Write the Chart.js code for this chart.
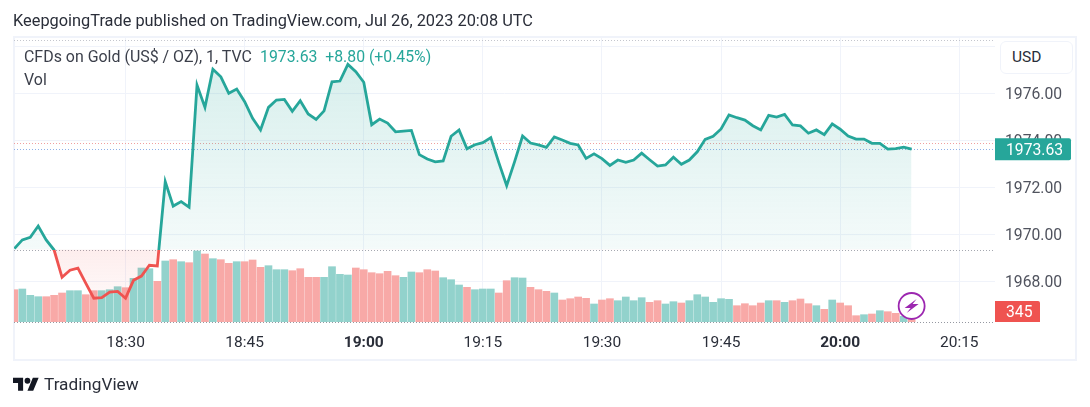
<!DOCTYPE html>
<html>
<head>
<meta charset="utf-8">
<title>CFDs on Gold</title>
<script src="https://cdn.jsdelivr.net/npm/chart.js@4/dist/chart.umd.min.js"></script>
<style>
  html, body { margin: 0; padding: 0; background: #fff; }
  body { width: 1090px; height: 407px; position: relative; overflow: hidden; font-family: Roboto, sans-serif; }
  canvas { position: absolute; left: 0; top: 0; }
  .txt { position: absolute; white-space: nowrap; }
  #published { left: 13px; top: 11px; font-size: 16.35px; color: #2a2e39; }
  #frame { position: absolute; left: 13px; top: 36px; width: 1060px; height: 321px; border: 2px solid #f0f3fa; }
  #symbol { left: 24px; top: 47px; font-size: 15.95px; color: #3b3f4a; }
  #quote { left: 260px; top: 47px; font-size: 15.8px; color: #26a69a; }
  #vol { left: 24px; top: 70px; font-size: 15.95px; color: #3b3f4a; }
  #usd { left: 1000px; top: 41px; width: 71px; height: 31px; line-height: 31px; border: 1px solid #f0f3fa; border-radius: 6px;
         background: #fff; font-size: 15.5px; color: #2a2e39; text-indent: 11px; }
  #logo { position: absolute; left: 13px; top: 377px; }
  #brand { left: 44px; top: 374px; font-size: 17.2px; color: #2a2e39; }
</style>
</head>
<body>
<div id="frame"></div>
<canvas id="goldChart" width="1090" height="407"></canvas>
<div class="txt" id="published">KeepgoingTrade published on TradingView.com, Jul 26, 2023 20:08 UTC</div>
<div class="txt" id="symbol">CFDs on Gold (US$ / OZ), 1, TVC</div>
<div class="txt" id="quote">1973.63&nbsp; +8.80 (+0.45%)</div>
<div class="txt" id="vol">Vol</div>
<div class="txt" id="usd">USD</div>
<svg id="logo" width="26" height="14" viewBox="0 0 36 19">
  <path fill="#131722" d="M14 19H7V8H0V1h14v18zM28 19h-8l7.5-18h8L28 19z"/><circle cx="20" cy="5" r="4" fill="#131722"/>
</svg>
<div class="txt" id="brand">TradingView</div>

<script>
// one bar per minute, first bar is 18:16
const firstMinute = 18 * 60 + 16;

const closes = [
  1969.40, 1969.77, 1969.88, 1970.36, 1969.77, 1969.34, 1968.18, 1968.48, 1968.57, 1967.92,
  1967.29, 1967.31, 1967.55, 1967.58, 1967.29, 1968.05, 1968.23, 1968.69, 1968.66, 1972.25,
  1971.21, 1971.40, 1971.16, 1976.36, 1975.41, 1977.03, 1976.71, 1976.01, 1976.19, 1975.65,
  1974.94, 1974.45, 1975.41, 1975.72, 1975.75, 1975.24, 1975.69, 1975.13, 1974.90, 1975.26,
  1976.50, 1976.53, 1977.24, 1976.93, 1976.48, 1974.67, 1974.91, 1974.74, 1974.37, 1974.40,
  1974.43, 1973.40, 1973.21, 1973.09, 1973.13, 1974.18, 1974.45, 1973.65, 1973.82, 1973.91,
  1974.12, 1973.07, 1972.08, 1973.10, 1974.19, 1973.89, 1973.81, 1973.71, 1974.15, 1974.02,
  1973.88, 1973.81, 1973.24, 1973.43, 1973.23, 1972.94, 1973.17, 1973.07, 1973.17, 1973.46,
  1973.18, 1972.91, 1972.96, 1973.29, 1972.99, 1973.17, 1973.52, 1974.05, 1974.18, 1974.49,
  1975.09, 1974.97, 1974.87, 1974.63, 1974.45, 1975.07, 1975.00, 1975.11, 1974.66, 1974.62,
  1974.31, 1974.45, 1974.25, 1974.71, 1974.48, 1974.19, 1974.06, 1974.06, 1973.88, 1973.88,
  1973.63, 1973.65, 1973.72, 1973.63
];

const volumes = [
  2100, 2145, 1735, 1645, 1645, 1735, 1885, 2035, 2035, 1775,
  2035, 2035, 2100, 2295, 2230, 2840, 3510, 3465, 2645, 3965,
  4050, 3920, 3855, 4615, 4420, 4115, 4050, 3815, 3920, 3920,
  4030, 3555, 3660, 3400, 3400, 3335, 3465, 2905, 2905, 2905,
  3595, 3100, 3055, 3510, 3400, 3205, 3140, 3295, 3010, 2905,
  3250, 3205, 3400, 3315, 2880, 2750, 2405, 2255, 2100, 2145,
  2145, 1885, 2685, 2880, 2860, 2255, 2100, 1995, 1885, 1430,
  1515, 1625, 1540, 1170, 1430, 1515, 1385, 1625, 1385, 1580,
  1280, 1385, 1170, 1320, 1235, 1385, 1775, 1625, 1280, 1515,
  1475, 1060, 1190, 1060, 1235, 1385, 1385, 1280, 1385, 1495,
  1190, 1060, 825, 1430, 1235, 1060, 410, 475, 520, 735,
  670, 565, 370, 345
];

// 1 = up bar, 0 = down bar
const volumeUp = [
  0, 1, 1, 1, 0, 0, 0, 1, 1, 0,
  0, 1, 1, 1, 0, 1, 1, 1, 0, 1,
  0, 1, 0, 1, 0, 1, 0, 0, 1, 0,
  0, 0, 1, 1, 1, 0, 0, 0, 0, 1,
  1, 1, 1, 0, 0, 0, 0, 0, 0, 1,
  1, 0, 0, 0, 1, 1, 1, 0, 1, 1,
  1, 0, 0, 1, 1, 0, 0, 0, 1, 0,
  0, 0, 0, 1, 0, 0, 1, 1, 1, 1,
  0, 0, 1, 1, 0, 1, 1, 1, 1, 1,
  1, 0, 0, 0, 0, 1, 0, 1, 0, 0,
  0, 1, 0, 1, 0, 0, 0, 1, 0, 1,
  0, 0, 1, 0
];

const timeTicks = ["18:30", "18:45", "19:00", "19:15", "19:30", "19:45", "20:00", "20:15"];
const boldTicks = ["19:00", "20:00"];
const priceTicks = [1968, 1970, 1972, 1974, 1976, 1978];

const baseValue = 1969.36;
const lastPrice = 1973.63;
const prevClose = 1973.88;
const highLine = 1978.28;

const GREEN = "#26a69a";
const RED = "#ef5350";

function toMinute(label) {
  const parts = label.split(":");
  return parseInt(parts[0]) * 60 + parseInt(parts[1]);
}

function toLabel(minute) {
  const m = String(minute % 60).padStart(2, "0");
  return Math.floor(minute / 60) + ":" + m;
}

const linePoints = closes.map((v, i) => ({ x: firstMinute + i, y: v }));
const barPoints = volumes.map((v, i) => ({ x: firstMinute + i, y: v }));

// line changes colour where it crosses the baseline
function lineColor(context) {
  const chart = context.chart;
  if (!chart.chartArea) return GREEN;
  const y = chart.scales.y;
  const stop = (y.getPixelForValue(baseValue) - y.top) / (y.bottom - y.top);
  const g = chart.ctx.createLinearGradient(0, y.top, 0, y.bottom);
  g.addColorStop(0, GREEN);
  g.addColorStop(stop, GREEN);
  g.addColorStop(stop, RED);
  g.addColorStop(1, RED);
  return g;
}

function fillAbove(context) {
  const chart = context.chart;
  if (!chart.chartArea) return "rgba(38,166,154,0.1)";
  const y = chart.scales.y;
  const g = chart.ctx.createLinearGradient(0, y.getPixelForValue(Math.max(...closes)), 0, y.getPixelForValue(baseValue));
  g.addColorStop(0, "rgba(38,166,154,0.18)");
  g.addColorStop(1, "rgba(38,166,154,0.05)");
  return g;
}

function fillBelow(context) {
  const chart = context.chart;
  if (!chart.chartArea) return "rgba(239,83,80,0.08)";
  const y = chart.scales.y;
  const g = chart.ctx.createLinearGradient(0, y.getPixelForValue(baseValue), 0, y.getPixelForValue(Math.min(...closes)));
  g.addColorStop(0, "rgba(239,83,80,0.1)");
  g.addColorStop(1, "rgba(239,83,80,0.04)");
  return g;
}

// dotted price lines, price tags and the live marker
const overlays = {
  id: "overlays",
  beforeDatasetsDraw(chart) {
    const { ctx, chartArea, scales } = chart;
    const dotted = [
      [highLine, "#c4c6cd"],
      [baseValue, "#a5a8b0"],
      [prevClose, "#f0a0a0"],
      [lastPrice, "#8fb0e8"]
    ];
    ctx.save();
    ctx.lineWidth = 1;
    ctx.setLineDash([1, 2]);
    dotted.forEach(d => {
      const py = Math.round(scales.y.getPixelForValue(d[0])) + 0.5;
      ctx.strokeStyle = d[1];
      ctx.beginPath();
      ctx.moveTo(chartArea.left, py);
      ctx.lineTo(chartArea.right, py);
      ctx.stroke();
    });
    ctx.restore();
  },
  afterDatasetsDraw(chart) {
    const { ctx, chartArea, scales } = chart;
    ctx.save();
    ctx.lineWidth = 1;
    ctx.setLineDash([1, 2]);
    ctx.strokeStyle = "#9598a1";
    ctx.beginPath();
    ctx.moveTo(chartArea.left, chartArea.bottom + 0.5);
    ctx.lineTo(chartArea.right, chartArea.bottom + 0.5);
    ctx.stroke();
    ctx.setLineDash([]);

    // live marker on the last bar
    const mx = scales.x.getPixelForValue(firstMinute + closes.length - 1);
    const my = chartArea.bottom - 16;
    ctx.beginPath();
    ctx.arc(mx, my, 13, 0, Math.PI * 2);
    ctx.fillStyle = "#fff";
    ctx.fill();
    ctx.strokeStyle = "#9c27b0";
    ctx.lineWidth = 1.8;
    ctx.stroke();
    ctx.fillStyle = "#9c27b0";
    ctx.beginPath();
    ctx.moveTo(mx + 5, my - 7);
    ctx.lineTo(mx - 7, my + 2);
    ctx.lineTo(mx - 1, my + 2);
    ctx.lineTo(mx - 5, my + 7);
    ctx.lineTo(mx + 7, my - 2);
    ctx.lineTo(mx + 1, my - 2);
    ctx.closePath();
    ctx.fill();

    // price tag
    ctx.textBaseline = "middle";
    ctx.textAlign = "left";
    ctx.font = "15.7px Roboto";
    const tagY = scales.y.getPixelForValue(lastPrice);
    ctx.fillStyle = GREEN;
    ctx.beginPath();
    ctx.roundRect(chartArea.right, tagY - 11, 76, 22, [0, 2, 2, 0]);
    ctx.fill();
    ctx.fillStyle = "#fff";
    ctx.fillText(lastPrice.toFixed(2), chartArea.right + 11, tagY + 2);

    // volume tag
    ctx.fillStyle = RED;
    ctx.beginPath();
    ctx.roundRect(chartArea.right, chartArea.bottom - 21, 45, 21, [0, 2, 0, 0]);
    ctx.fill();
    ctx.fillStyle = "#fff";
    ctx.fillText(String(volumes[volumes.length - 1]), chartArea.right + 11, chartArea.bottom - 9);
    ctx.restore();
  }
};

new Chart(document.getElementById("goldChart"), {
  data: {
    datasets: [
      {
        type: "line",
        data: linePoints,
        yAxisID: "y",
        order: 1,
        borderColor: lineColor,
        borderWidth: 2.8,
        borderJoinStyle: "miter",
        pointRadius: 0,
        tension: 0,
        fill: { target: { value: baseValue }, above: fillAbove, below: fillBelow }
      },
      {
        type: "bar",
        data: barPoints,
        yAxisID: "volume",
        order: 2,
        barThickness: 7,
        backgroundColor: volumeUp.map(u => (u ? "#92d2cc" : "#f8a9a7"))
      }
    ]
  },
  options: {
    responsive: false,
    animation: false,
    devicePixelRatio: 1,
    layout: { padding: { left: 14, top: 37, right: 0, bottom: 0 } },
    plugins: { legend: { display: false }, title: { display: false }, tooltip: { enabled: false } },
    scales: {
      x: {
        type: "linear",
        offset: false,
        min: firstMinute - 0.05,
        max: firstMinute + 123.5,
        afterBuildTicks: scale => {
          scale.ticks = timeTicks.map(t => ({ value: toMinute(t) }));
        },
        afterFit: scale => { scale.height = 85; },
        grid: { color: "#f0f3fa", drawTicks: false, offset: false },
        border: { display: false },
        ticks: {
          autoSkip: false,
          maxRotation: 0,
          padding: 12,
          color: "#2a2e39",
          callback: v => toLabel(v),
          font: ctx => ({
            family: "Roboto",
            size: 15.5,
            weight: ctx.tick && boldTicks.includes(toLabel(ctx.tick.value)) ? "bold" : "normal"
          })
        }
      },
      y: {
        position: "right",
        min: 1966.277,
        max: 1978.404,
        afterBuildTicks: scale => {
          scale.ticks = priceTicks.map(v => ({ value: v }));
        },
        afterFit: scale => { scale.width = 95; },
        grid: { color: "#f0f3fa", drawTicks: false },
        border: { display: false },
        ticks: {
          padding: 10,
          labelOffset: 2,
          color: "#50535e",
          font: { family: "Roboto", size: 15.7 },
          callback: v => (v === 1978 ? "" : v.toFixed(2))
        }
      },
      volume: { display: false, min: 0, max: 18525 }
    }
  },
  plugins: [overlays]
});
</script>
</body>
</html>
